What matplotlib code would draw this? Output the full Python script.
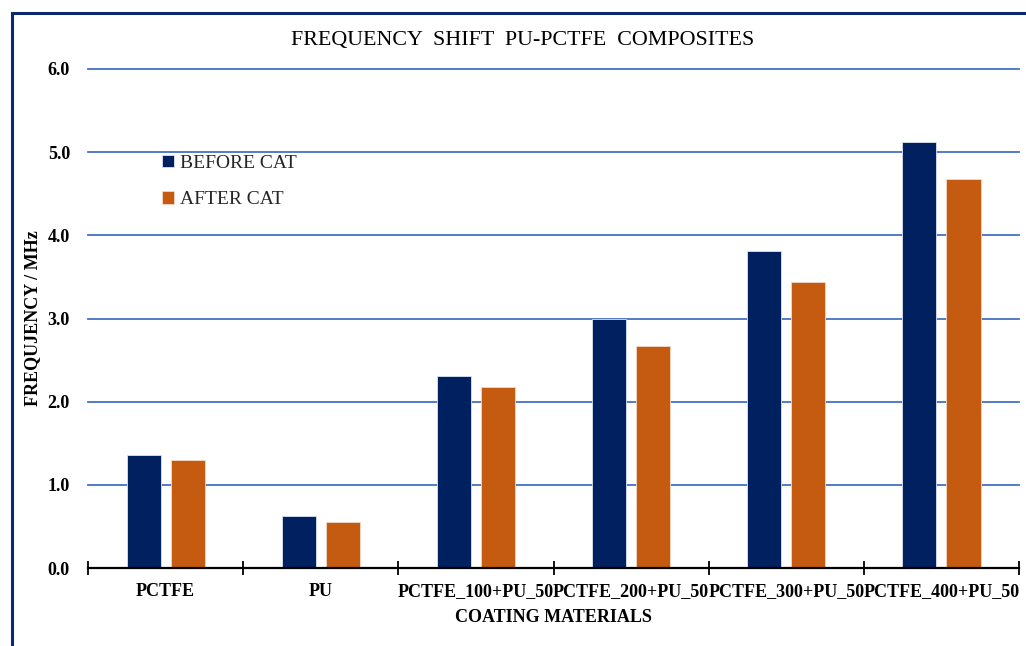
import matplotlib

matplotlib.use("Agg")
import matplotlib.pyplot as plt
import numpy as np
from matplotlib.lines import Line2D

categories = ["PCTFE", "PU", "PCTFE_100+PU_50", "PCTFE_200+PU_50",
              "PCTFE_300+PU_50", "PCTFE_400+PU_50"]
before_cat = [1.36, 0.63, 2.31, 2.99, 3.81, 5.12]
after_cat = [1.30, 0.55, 2.18, 2.67, 3.44, 4.68]
y_ticks = [0.0, 1.0, 2.0, 3.0, 4.0, 5.0, 6.0]

NAVY = "#002060"
ORANGE = "#C55A11"
GRID = "#4472C4"

plt.rcParams["font.family"] = ["Liberation Serif", "DejaVu Serif"]

fig = plt.figure(figsize=(10.26, 6.46), dpi=100)
ax = fig.add_axes([0.0858, 0.1207, 0.9074, 0.7725])

x = np.arange(len(categories))
width = 0.22
offset = 0.142
ax.bar(x - offset, before_cat, width, color=NAVY, edgecolor="#dce3f0",
       linewidth=0.6, label="BEFORE CAT", zorder=3)
ax.bar(x + offset, after_cat, width, color=ORANGE, edgecolor="#f3d9c6",
       linewidth=0.6, label="AFTER CAT", zorder=3)

ax.set_xlim(-0.5, len(categories) - 0.5)
ax.set_ylim(0, 6.0)
ax.set_yticks(y_ticks)
ax.set_yticklabels([f"{v:.1f}" for v in y_ticks], fontsize=13, fontweight="bold")
ax.tick_params(axis="y", length=0, pad=13)

ax.set_xticks(x)
ax.set_xticklabels(categories, fontsize=13, fontweight="bold")
ax.set_xticks(np.arange(len(categories) + 1) - 0.5, minor=True)
ax.tick_params(axis="x", which="major", length=0, pad=11)
ax.tick_params(axis="x", which="minor", direction="inout", length=10, width=1.3)

ax.grid(axis="y", color=GRID, linewidth=1.3, zorder=0)
for gl in ax.get_ygridlines():
    gl.set_clip_on(False)
ax.set_axisbelow(True)
for side in ("top", "right", "left"):
    ax.spines[side].set_visible(False)
ax.spines["bottom"].set_linewidth(1.6)
ax.spines["bottom"].set_zorder(4)

ax.set_xlabel("COATING MATERIALS", fontsize=13, fontweight="bold", labelpad=6)
ax.set_ylabel("FREQUJENCY / MHz", fontsize=13, fontweight="bold")
ax.yaxis.set_label_coords(-0.051, 0.5)

fig.text(0.509, 0.938, "FREQUENCY  SHIFT  PU-PCTFE  COMPOSITES",
         ha="center", va="center", fontsize=15.8)

ax.legend(loc="upper left", bbox_to_anchor=(0.061, 0.863), frameon=False,
          fontsize=14, handlelength=0.6, handleheight=0.6, handletextpad=0.3,
          labelspacing=1.0, labelcolor="#262626")

# outer frame around the chart area
frame_kw = dict(color="#0b2a6b", linewidth=2.2, transform=fig.transFigure)
fig.add_artist(Line2D([0.0117, 1.0], [0.98, 0.98], **frame_kw))
fig.add_artist(Line2D([0.0117, 0.0117], [0.0, 0.98], **frame_kw))

fig.savefig("out.png", dpi=100)
